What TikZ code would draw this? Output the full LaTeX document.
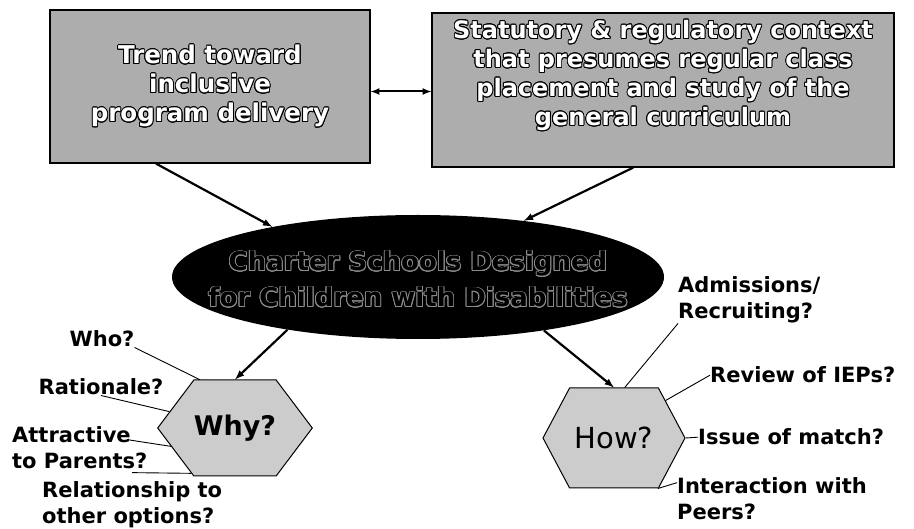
\documentclass[tikz,border=0pt]{standalone}
\usepackage{fontspec}
\setmainfont{DejaVu Sans}
\usepackage[copies]{contour}
\usetikzlibrary{shapes.geometric,shapes.symbols}
\contourlength{0.9pt}
\newcommand{\boxline}[1]{\contour{black}{#1}}
\newcommand{\ovalline}[1]{\contour{black!45}{#1}}

\begin{document}
\begin{tikzpicture}[x=1pt, y=-1pt,
		box/.style={draw=black, line width=1.2pt, fill=black!32, text=white, align=center, inner sep=0pt,
			font=\bfseries\fontsize{24.5}{29}\selectfont},
		hexa/.style={shape=signal, signal to=west and east, draw=black, line width=1pt, fill=black!20, inner sep=0pt},
		ask/.style={font=\bfseries\fontsize{21}{26}\selectfont, inner sep=0pt},
		conn/.style={->, >=latex, line width=2.2pt},
		tie/.style={line width=0.9pt}]
	\useasboundingbox (0,0) rectangle (914,529);

	\node[box, minimum width=320pt, minimum height=153pt] (trend) at (210,86.5)
		{\boxline{Trend toward}\\\boxline{inclusive}\\\boxline{program delivery}};
	\node[box, minimum width=462pt, minimum height=154pt, text depth=34pt, font=\bfseries\fontsize{24}{29}\selectfont] (statute) at (663,90)
		{\boxline{Statutory \& regulatory context}\\\boxline{that presumes regular class}\\
		 \boxline{placement and study of the}\\\boxline{general curriculum}};

	\node[ellipse, fill=black, minimum width=492pt, minimum height=124pt, inner sep=0pt,
		font=\bfseries\fontsize{26}{36}\selectfont] (charter) at (418,277)
		{\makebox[0pt]{\smash{\raisebox{-11pt}{\begin{tabular}{c}\ovalline{Charter Schools Designed}\\
		 \ovalline{for Children with Disabilities}\end{tabular}}}}};

	\node[hexa, minimum width=144pt, minimum height=96pt, signal pointer angle=106,
		font=\bfseries\fontsize{27}{30}\selectfont] (why) at (235,428) {Why?};
	\node[hexa, minimum width=142pt, minimum height=100pt, signal pointer angle=124,
		font=\fontsize{29}{32}\selectfont] (how) at (614,438) {How?};

	\draw[<->, >=latex, line width=2pt]	([yshift=-5pt]trend.east) -- ([yshift=-5pt]trend.east -| statute.west);
	\draw[conn]	(trend.235) -- (charter.161);
	\draw[conn]	(statute.249) -- (charter.28);
	\draw[conn]	(charter.202) -- (why.north);
	\draw[conn]	(charter.337) -- (how.north);

	\node[ask, anchor=base] (who) at (102,347) {Who?};
	\node[ask, anchor=base] (rationale) at (101,395) {Rationale?};
	\node[ask, anchor=west, align=left] (attractive) at (12,448) {Attractive\\to Parents?};
	\node[ask, anchor=west, align=left] (relation) at (42,505) {Relationship to\\other options?};
	\node[ask, anchor=west, align=left] (admit) at (678,300) {Admissions/\\Recruiting?};
	\node[ask, anchor=base west] (iep) at (710,383) {Review of IEPs?};
	\node[ask, anchor=base west] (match) at (698,445) {Issue of match?};
	\node[ask, anchor=west, align=left] (peers) at (677,499) {Interaction with\\Peers?};

	\draw[tie]	(who.south east) -- (why.126);
	\draw[tie]	(rationale.south) -- (why.166);
	\draw[tie]	([xshift=-20pt, yshift=-13pt]attractive.north east) -- (why.196);
	\draw[tie]	([yshift=9pt]relation.north) -- (why.226);
	\draw[tie]	(admit.south west) -- (how.78);
	\draw[tie]	(iep.west) -- (how.36);
	\draw[tie]	(match.west) -- (how.east);
	\draw[tie]	([yshift=-5pt]peers.north west) -- (how.311);
\end{tikzpicture}
\end{document}
